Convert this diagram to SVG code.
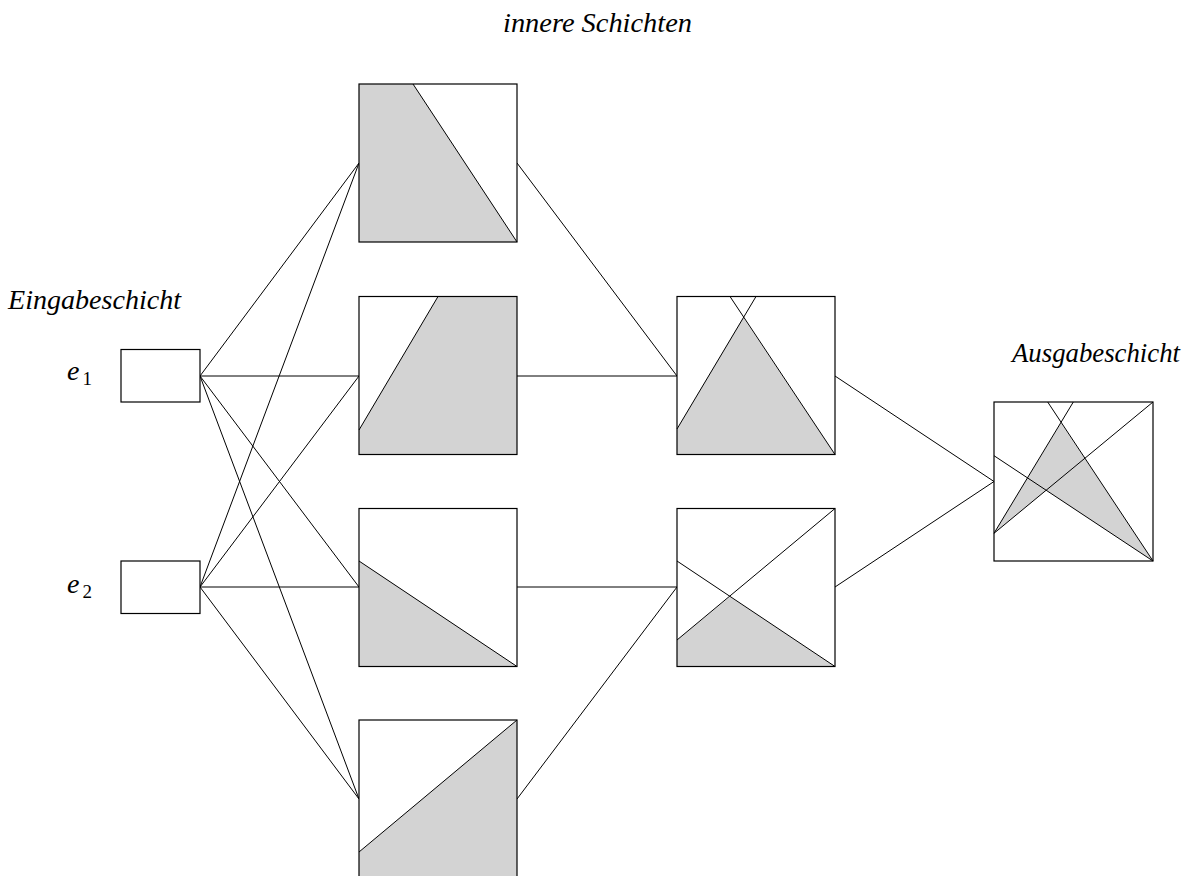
<svg xmlns="http://www.w3.org/2000/svg" width="1195" height="876" viewBox="0 0 1195 876">
<style>
.box{fill:none;stroke:#000;stroke-width:1.2}
.bg{fill:#fff}
.sh{fill:#d3d3d3;stroke:none}
.ln{stroke:#000;stroke-width:1;fill:none}
.lbl{font-family:"Liberation Serif","DejaVu Serif",serif;font-style:italic;font-size:28px;fill:#000}
.sub{font-family:"Liberation Serif","DejaVu Serif",serif;font-size:19px;fill:#000}
</style>
<rect width="1195" height="876" fill="#fff"/>
<g id="connectors" class="ln">
<line x1="200" y1="376" x2="359" y2="163"/>
<line x1="200" y1="376" x2="359" y2="376"/>
<line x1="200" y1="376" x2="359" y2="587"/>
<line x1="200" y1="376" x2="359" y2="799"/>
<line x1="200" y1="587" x2="359" y2="163"/>
<line x1="200" y1="587" x2="359" y2="376"/>
<line x1="200" y1="587" x2="359" y2="587"/>
<line x1="200" y1="587" x2="359" y2="799"/>
<line x1="517" y1="163" x2="677" y2="376"/>
<line x1="517" y1="376" x2="677" y2="376"/>
<line x1="517" y1="587" x2="677" y2="587"/>
<line x1="517" y1="799" x2="677" y2="587"/>
<line x1="835" y1="376" x2="994" y2="481.5"/>
<line x1="835" y1="587" x2="994" y2="481.5"/>
</g>
<g id="label-innere"><text class="lbl" x="503" y="31.5" textLength="189" lengthAdjust="spacingAndGlyphs">innere Schichten</text></g>
<g id="label-eingabe"><text class="lbl" x="8" y="309" textLength="173" lengthAdjust="spacingAndGlyphs">Eingabeschicht</text></g>
<g id="label-ausgabe"><text class="lbl" x="1012" y="362" textLength="168" lengthAdjust="spacingAndGlyphs">Ausgabeschicht</text></g>
<g id="e1">
<rect class="bg" x="121" y="349.5" width="79" height="52.5"/>
<rect class="box" x="121" y="349.5" width="79" height="52.5"/>
<text class="lbl" x="67" y="380" font-size="31">e</text><text class="sub" x="82.5" y="385">1</text>
</g>
<g id="e2">
<rect class="bg" x="121" y="561" width="79" height="52.5"/>
<rect class="box" x="121" y="561" width="79" height="52.5"/>
<text class="lbl" x="67" y="593" font-size="31">e</text><text class="sub" x="82.5" y="598">2</text>
</g>
<g id="h1">
<rect class="bg" x="359" y="84" width="158" height="158"/>
<polygon class="sh" points="359,84 413,84 517,242 359,242"/>
<line class="ln" x1="413" y1="84" x2="517" y2="242"/>
<rect class="box" x="359" y="84" width="158" height="158"/>
</g>
<g id="h2">
<rect class="bg" x="359" y="296.5" width="158" height="158"/>
<polygon class="sh" points="438,296.5 517,296.5 517,454.5 359,454.5 359,430"/>
<line class="ln" x1="438" y1="296.5" x2="359" y2="430"/>
<rect class="box" x="359" y="296.5" width="158" height="158"/>
</g>
<g id="h3">
<rect class="bg" x="359" y="508.5" width="158" height="158"/>
<polygon class="sh" points="359,561 517,666.5 359,666.5"/>
<line class="ln" x1="359" y1="561" x2="517" y2="666.5"/>
<rect class="box" x="359" y="508.5" width="158" height="158"/>
</g>
<g id="h4">
<rect class="bg" x="359" y="720" width="158" height="158"/>
<polygon class="sh" points="359,852 517,720 517,878 359,878"/>
<line class="ln" x1="359" y1="852" x2="517" y2="720"/>
<rect class="box" x="359" y="720" width="158" height="158"/>
</g>
<g id="k1">
<rect class="bg" x="677" y="296.5" width="158" height="158"/>
<polygon class="sh" points="677,429 743.3,317.5 835,454.5 677,454.5"/>
<line class="ln" x1="677" y1="429" x2="756" y2="296.5"/>
<line class="ln" x1="730" y1="296.5" x2="835" y2="454.5"/>
<rect class="box" x="677" y="296.5" width="158" height="158"/>
</g>
<g id="k2">
<rect class="bg" x="677" y="508.5" width="158" height="158"/>
<polygon class="sh" points="677,640 730,596.7 835,666.5 677,666.5"/>
<line class="ln" x1="677" y1="561" x2="835" y2="666.5"/>
<line class="ln" x1="677" y1="640" x2="835" y2="508.5"/>
<rect class="box" x="677" y="508.5" width="158" height="158"/>
</g>
<g id="out">
<rect class="bg" x="994" y="402" width="159" height="159"/>
<polygon class="sh" points="994,533.3 1061,423 1153,561 1046.2,490.3"/>
<line class="ln" x1="994" y1="533.3" x2="1073.3" y2="402"/>
<line class="ln" x1="1047.7" y1="402" x2="1153" y2="561"/>
<line class="ln" x1="994" y1="455.7" x2="1153" y2="561"/>
<line class="ln" x1="994" y1="533.3" x2="1153" y2="402"/>
<rect class="box" x="994" y="402" width="159" height="159"/>
</g>
</svg>
